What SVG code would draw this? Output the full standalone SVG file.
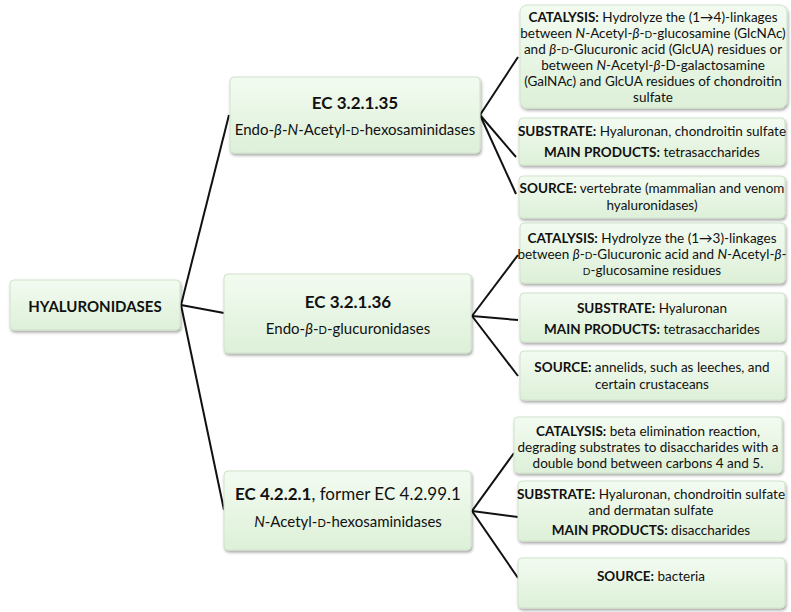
<svg xmlns="http://www.w3.org/2000/svg" width="791" height="612" viewBox="0 0 791 612">
<defs>
<linearGradient id="g" x1="0" y1="0" x2="0" y2="1"><stop offset="0" stop-color="#f3fbf1"/><stop offset="1" stop-color="#ddf0d8"/></linearGradient>
<filter id="sh" x="-10%" y="-20%" width="125%" height="150%"><feDropShadow dx="1" dy="2" stdDeviation="1.5" flood-color="#000" flood-opacity="0.35"/></filter>
</defs>
<style>
.b{fill:url(#g);stroke:#cfe3ca;stroke-width:1;filter:url(#sh)}
text{font-family:Lato,"Open Sans","Liberation Sans",sans-serif;fill:#111;text-anchor:middle}
.s{font-size:13.5px}
.m{font-size:15px}
.t{font-size:17px;font-weight:bold}
.bd{font-weight:bold}
.sc{font-size:10px}
.i{font-style:italic}
.c line{stroke:#111;stroke-width:2}
</style>
<g class="c" id="connectors">
<line x1="181" y1="305" x2="229" y2="115"/><line x1="181" y1="305" x2="224" y2="313"/><line x1="181" y1="305" x2="224" y2="510"/>
<line x1="480" y1="115" x2="518" y2="57"/><line x1="480" y1="115" x2="516" y2="157"/><line x1="480" y1="115" x2="516" y2="194"/>
<line x1="472" y1="316" x2="518" y2="255"/><line x1="472" y1="316" x2="518" y2="320"/><line x1="472" y1="316" x2="518" y2="376"/>
<line x1="472" y1="511" x2="514" y2="453"/><line x1="472" y1="511" x2="518" y2="517"/><line x1="472" y1="511" x2="518" y2="578"/>
</g>
<g id="root"><rect class="b" x="10" y="280" width="170" height="50" rx="4"/><text x="95" y="312" class="m bd">HYALURONIDASES</text></g>
<g id="ec1"><rect class="b" x="230" y="77" width="250" height="76" rx="4"/>
<text x="355" y="109" class="t">EC 3.2.1.35</text>
<text x="355" y="135" class="m">Endo-<tspan class="i">β</tspan>-<tspan class="i">N</tspan>-Acetyl-<tspan font-size="11px">D</tspan>-hexosaminidases</text></g>
<g id="ec2"><rect class="b" x="224" y="274" width="247" height="79" rx="4"/>
<text x="348" y="308" class="t">EC 3.2.1.36</text>
<text x="348" y="334" class="m">Endo-<tspan class="i">β</tspan>-<tspan font-size="11px">D</tspan>-glucuronidases</text></g>
<g id="ec3"><rect class="b" x="224" y="471" width="247" height="79" rx="4"/>
<text x="348" y="500" font-size="17px"><tspan class="bd">EC 4.2.2.1</tspan>, former EC 4.2.99.1</text>
<text x="348" y="527" class="m"><tspan class="i">N</tspan>-Acetyl-<tspan font-size="11px">D</tspan>-hexosaminidases</text></g>
<g id="cat1"><rect class="b" x="520" y="5" width="267" height="103" rx="7"/>
<text x="653" y="22" class="s"><tspan class="bd">CATALYSIS:</tspan> Hydrolyze the (1→4)-linkages</text>
<text x="653" y="38" class="s">between <tspan class="i">N</tspan>-Acetyl-<tspan class="i">β</tspan>-<tspan class="sc">D</tspan>-glucosamine (GlcNAc)</text>
<text x="653" y="54" class="s">and <tspan class="i">β</tspan>-<tspan class="sc">D</tspan>-Glucuronic acid  (GlcUA) residues or</text>
<text x="653" y="70" class="s">between <tspan class="i">N</tspan>-Acetyl-<tspan class="i">β</tspan>-D-galactosamine</text>
<text x="653" y="86" class="s">(GalNAc) and GlcUA residues of chondroitin</text>
<text x="653" y="102" class="s">sulfate</text></g>
<g id="sub1"><rect class="b" x="519" y="118" width="266" height="47" rx="4"/>
<text x="652" y="136" class="s"><tspan class="bd">SUBSTRATE:</tspan> Hyaluronan, chondroitin sulfate</text>
<text x="652" y="157" class="s"><tspan class="bd">MAIN PRODUCTS:</tspan> tetrasaccharides</text></g>
<g id="src1"><rect class="b" x="519" y="176" width="266" height="42" rx="4"/>
<text x="652" y="193" class="s"><tspan class="bd">SOURCE:</tspan> vertebrate (mammalian and venom</text>
<text x="652" y="210" class="s">hyaluronidases)</text></g>
<g id="cat2"><rect class="b" x="520" y="223" width="265" height="60" rx="4"/>
<text x="652" y="243" class="s"><tspan class="bd">CATALYSIS:</tspan> Hydrolyze the (1→3)-linkages</text>
<text x="652" y="259" class="s">between <tspan class="i">β</tspan>-<tspan class="sc">D</tspan>-Glucuronic acid  and <tspan class="i">N</tspan>-Acetyl-<tspan class="i">β</tspan>-</text>
<text x="652" y="275" class="s"><tspan class="sc">D</tspan>-glucosamine residues</text></g>
<g id="sub2"><rect class="b" x="520" y="293" width="265" height="49" rx="4"/>
<text x="652" y="313" class="s"><tspan class="bd">SUBSTRATE:</tspan> Hyaluronan</text>
<text x="652" y="334" class="s"><tspan class="bd">MAIN PRODUCTS:</tspan> tetrasaccharides</text></g>
<g id="src2"><rect class="b" x="520" y="351" width="265" height="49" rx="4"/>
<text x="652" y="372" class="s"><tspan class="bd">SOURCE:</tspan> annelids, such as leeches, and</text>
<text x="652" y="389" class="s">certain crustaceans</text></g>
<g id="cat3"><rect class="b" x="514" y="417" width="268" height="56" rx="4"/>
<text x="648" y="436" class="s"><tspan class="bd">CATALYSIS:</tspan> beta elimination reaction,</text>
<text x="648" y="452" class="s">degrading substrates to disaccharides with a</text>
<text x="648" y="468" class="s">double bond between carbons 4 and 5.</text></g>
<g id="sub3"><rect class="b" x="518" y="481" width="267" height="60" rx="4"/>
<text x="651" y="499" class="s"><tspan class="bd">SUBSTRATE:</tspan> Hyaluronan, chondroitin  sulfate</text>
<text x="651" y="515" class="s">and dermatan sulfate</text>
<text x="651" y="535" class="s"><tspan class="bd">MAIN PRODUCTS:</tspan> disaccharides</text></g>
<g id="src3"><rect class="b" x="518" y="558" width="267" height="50" rx="4"/>
<text x="651" y="581" class="s"><tspan class="bd">SOURCE:</tspan> bacteria</text></g>
</svg>
